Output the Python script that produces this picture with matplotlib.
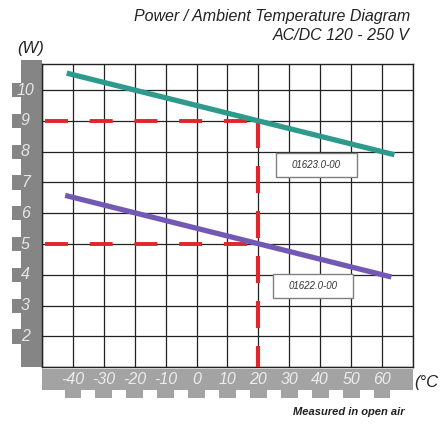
import matplotlib.pyplot as plt
from matplotlib.patches import Rectangle
import numpy as np

# data
temp_ticks = [-40, -30, -20, -10, 0, 10, 20, 30, 40, 50, 60]
watt_ticks = [2, 3, 4, 5, 6, 7, 8, 9, 10]

t_01623 = [-42, 64]
p_01623 = [10.55, 7.9]
t_01622 = [-42.5, 63]
p_01622 = [6.58, 3.93]

ref_temp = 20
ref_powers = [9, 5]

label_names = ['01623.0-00', '01622.0-00']
label_pos = [(38.8, 7.57), (37.7, 3.64)]

plt.rcParams['font.family'] = ['Liberation Sans', 'DejaVu Sans']

fig = plt.figure(figsize=(4.41, 4.26), dpi=100)
ax = fig.add_axes([0.0952, 0.138, 0.8413, 0.712])

ax.set_xlim(-50, 70)
ax.set_ylim(1, 10.85)
ax.set_xticks(np.arange(-50, 71, 10))
ax.set_yticks(np.arange(1, 11, 1))
ax.grid(True, color='#222222', lw=0.9)
ax.tick_params(length=0, labelbottom=False, labelleft=False)
for sp in ax.spines.values():
    sp.set_color('#222222')
    sp.set_linewidth(1.0)

# red reference lines
for p in ref_powers:
    ax.plot([-49, ref_temp], [p, p], color='#e0262b', lw=2.8,
            linestyle=(0, (5.9, 5.6)), zorder=3)
ax.plot([ref_temp, ref_temp], [9, 1], color='#e0262b', lw=3,
        linestyle=(0, (6.5, 4.3)), zorder=3)

# curves
ax.plot(t_01623, p_01623, color='#2e9a8c', lw=3.8, solid_capstyle='butt', zorder=4)
ax.plot(t_01622, p_01622, color='#7459b4', lw=3.8, solid_capstyle='butt', zorder=4)

# part number boxes
box_w, box_h = 26, 0.78
for name, (x, y) in zip(label_names, label_pos):
    ax.add_patch(Rectangle((x - box_w / 2, y - box_h / 2), box_w, box_h,
                           fc='white', ec='#808080', lw=1.0, zorder=5))
    ax.text(x, y, name, fontsize=7, style='italic', ha='center', va='center',
            color='#333333', zorder=6)

# left gray strip with tabs
ytr = ax.get_yaxis_transform()
ax.add_patch(Rectangle((-0.057, 1), 0.057, 9.97, transform=ytr, fc='#858585',
                       ec='none', clip_on=False))
for w in watt_ticks:
    ax.add_patch(Rectangle((-0.081, w - 0.23), 0.03, 0.46, transform=ytr,
                           fc='#858585', ec='none', clip_on=False))
    ax.text(-0.045, w, str(w), transform=ytr, ha='center', va='center',
            fontsize=11.5, style='italic', color='#e6e6e6')

# bottom gray strip with tabs
xtr = ax.get_xaxis_transform()
ax.add_patch(Rectangle((-50, -0.075), 120, 0.068, transform=xtr, fc='#a3a3a3',
                       ec='none', clip_on=False))
for t in temp_ticks:
    ax.add_patch(Rectangle((t - 2.7, -0.1), 5.4, 0.03, transform=xtr,
                           fc='#a3a3a3', ec='none', clip_on=False))
    ax.text(t, -0.041, str(t), transform=xtr, ha='center', va='center',
            fontsize=11.5, style='italic', color='#ececec')

fig.text(0.93, 0.962, 'Power / Ambient Temperature Diagram', ha='right', va='center',
         fontsize=11.5, style='italic', color='#222222')
fig.text(0.93, 0.917, 'AC/DC 120 - 250 V', ha='right', va='center',
         fontsize=11.5, style='italic', color='#222222')
fig.text(0.04, 0.885, '(W)', ha='left', va='center', fontsize=12,
         style='italic', color='#222222')
fig.text(0.94, 0.102, '(°C', ha='left', va='center', fontsize=12,
         style='italic', color='#222222')
fig.text(0.918, 0.033, 'Measured in open air', ha='right', va='center',
         fontsize=8, style='italic', weight='bold', color='#222222')

fig.savefig('out.png', dpi=100)
